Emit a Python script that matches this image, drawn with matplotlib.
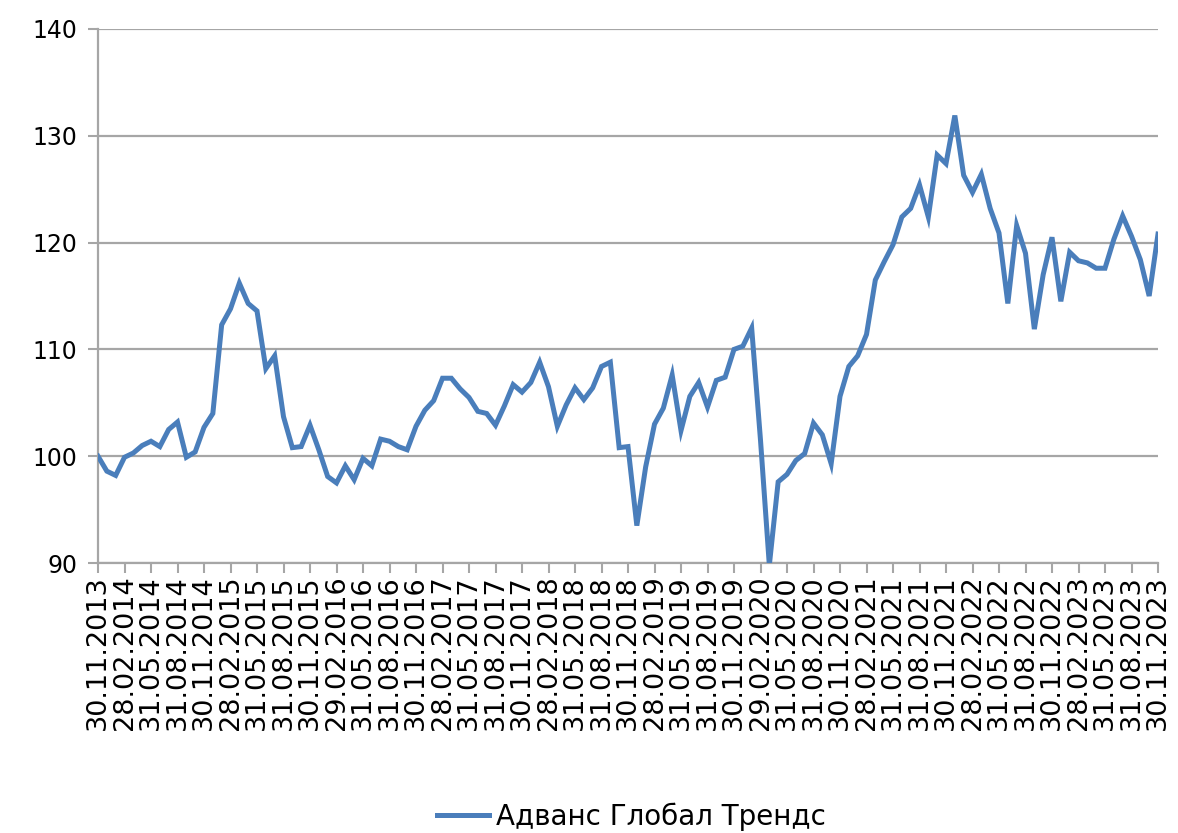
import numpy as np
import pandas as pd
import matplotlib
matplotlib.use('Agg')
import matplotlib.pyplot as plt

# monthly values, 30.11.2013 .. 30.11.2023
values = [
    100.0, 98.6, 98.2, 99.9, 100.3, 101.0, 101.4, 100.9, 102.5, 103.2,
    99.9, 100.4, 102.7, 104.0, 112.3, 113.8, 116.2, 114.3, 113.6, 108.2,
    109.4, 103.7, 100.8, 100.9, 102.9, 100.6, 98.1, 97.5, 99.1, 97.8,
    99.8, 99.1, 101.6, 101.4, 100.9, 100.6, 102.8, 104.3, 105.2, 107.3,
    107.3, 106.3, 105.5, 104.2, 104.0, 102.9, 104.7, 106.7, 106.0, 106.9,
    108.8, 106.5, 102.8, 104.8, 106.4, 105.3, 106.4, 108.4, 108.8, 100.8,
    100.9, 93.5, 99.0, 103.0, 104.5, 107.6, 102.4, 105.6, 106.9, 104.6,
    107.1, 107.4, 110.0, 110.3, 112.0, 101.5, 89.8, 97.6, 98.3, 99.6,
    100.25, 103.1, 102.0, 99.3, 105.6, 108.4, 109.4, 111.4, 116.5, 118.2,
    119.8, 122.4, 123.2, 125.4, 122.4, 128.2, 127.4, 131.9, 126.3, 124.7,
    126.4, 123.2, 120.9, 114.3, 121.6, 119.0, 111.9, 117.0, 120.5, 114.5,
    119.1, 118.3, 118.1, 117.6, 117.6, 120.3, 122.5, 120.6, 118.4, 115.0,
    120.8,
]
dates = pd.date_range('2013-11-30', periods=len(values), freq='ME')
tick_pos = list(range(0, len(values), 3))
tick_labels = [dates[i].strftime('%d.%m.%Y') for i in tick_pos]
series_name = 'Адванс Глобал Трендс'

plt.rcParams['font.family'] = ['DejaVu Sans']

fig = plt.figure(figsize=(11.78, 8.33), dpi=100)
ax = fig.add_axes([98/1178, 1 - 563/833, 1060/1178, 534/833])

grid_c = '#a6a6a6'
x = np.arange(len(values))
ax.plot(x, values, color='#4a7ebb', linewidth=3.6, label=series_name,
        solid_joinstyle='miter', zorder=3)

ax.set_xlim(0, len(values) - 1)
ax.set_ylim(90, 140)
ax.set_yticks(range(90, 141, 10))
ax.set_xticks(tick_pos)
ax.set_xticklabels(tick_labels, rotation=90, fontsize=19.5)
ax.tick_params(axis='y', labelsize=17, length=7, width=1.5, color=grid_c, pad=8)
ax.tick_params(axis='x', length=7, width=1.5, color=grid_c, pad=2)
ax.grid(axis='y', color=grid_c, linewidth=1.6)
ax.set_axisbelow(True)
for s in ['top', 'right']:
    ax.spines[s].set_visible(False)
for s in ['left', 'bottom']:
    ax.spines[s].set_color(grid_c)
    ax.spines[s].set_linewidth(1.6)

fig.legend(loc='center', bbox_to_anchor=(0.536, 0.02), frameon=False,
           fontsize=20, handlelength=1.9, handletextpad=0.25)

fig.savefig('out.png', dpi=100)
